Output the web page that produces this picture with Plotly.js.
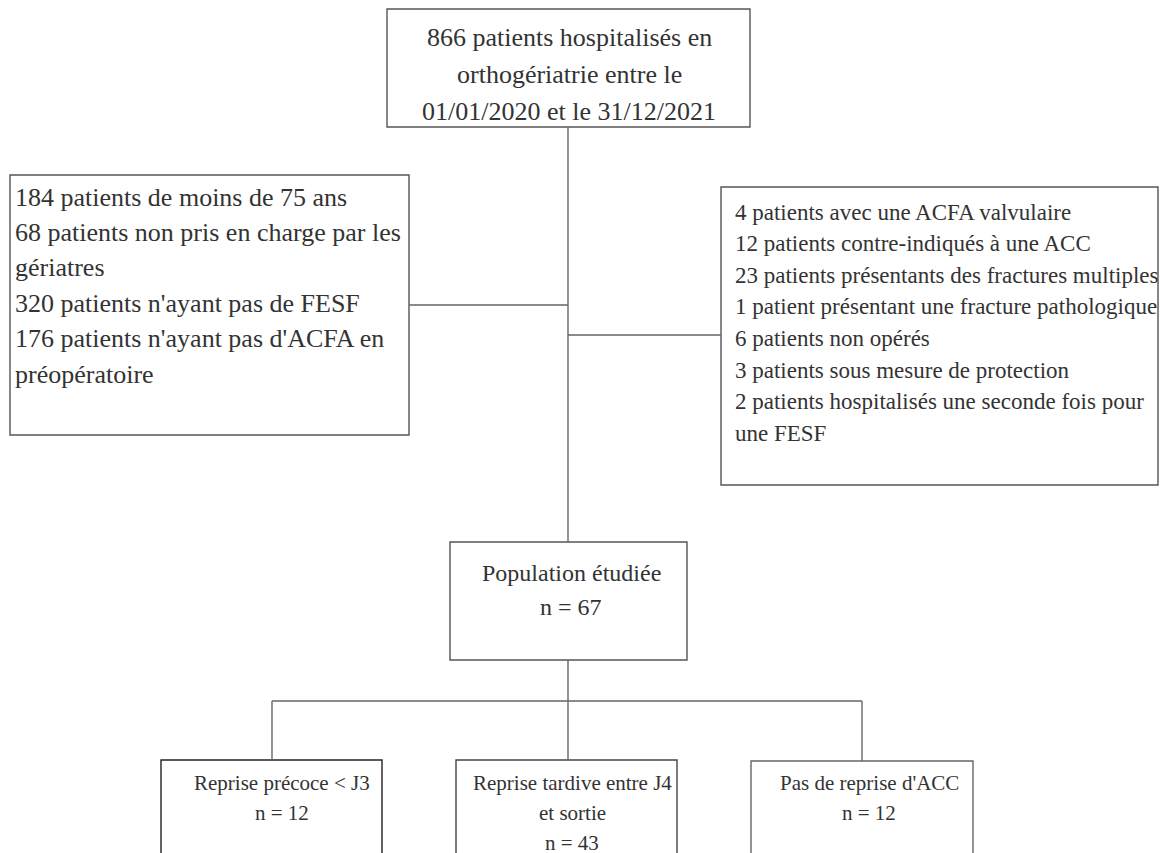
<!DOCTYPE html>
<html>
<head>
<meta charset="utf-8">
<script src="https://cdn.plot.ly/plotly-3.0.1.min.js"></script>
<style>html,body{margin:0;padding:0;background:#fff;}#chart{width:1165px;height:853px;}</style>
</head>
<body>
<div id="chart"></div>
<script>
// ---- Chart content (text values) ----
var topLines = ["866 patients hospitalisés en", "orthogériatrie entre le", "01/01/2020 et le 31/12/2021"];
var leftLines = ["184 patients de moins de 75 ans", "68 patients non pris en charge par les", "gériatres", "320 patients n'ayant pas de FESF", "176 patients n'ayant pas d'ACFA en", "préopératoire"];
var rightLines = ["4 patients avec une ACFA valvulaire", "12 patients contre-indiqués à une ACC", "23 patients présentants des fractures multiples", "1 patient présentant une fracture pathologique", "6 patients non opérés", "3 patients sous mesure de protection", "2 patients hospitalisés une seconde fois pour", "une FESF"];
var studyLines = ["Population étudiée", "n = 67"];
var groupLines = [
  ["Reprise précoce < J3", "n = 12"],
  ["Reprise tardive entre J4", "et sortie", "n = 43"],
  ["Pas de reprise d'ACC", "n = 12"]
];

// ---- Layout geometry (pixel-like data coordinates) ----
var W = 1165, H = 853;
var boxes = [
  {x0: 387, x1: 750, y0: 9, y1: 127, c: "#555"},
  {x0: 10, x1: 409, y0: 175, y1: 435, c: "#555"},
  {x0: 721, x1: 1158, y0: 187, y1: 485, c: "#555"},
  {x0: 450, x1: 687, y0: 542, y1: 660, c: "#555"},
  {x0: 161, x1: 382, y0: 760, y1: 900, c: "#222"},
  {x0: 456, x1: 677, y0: 760, y1: 900, c: "#444"},
  {x0: 751, x1: 973, y0: 761, y1: 900, c: "#666"}
];
var connectors = [
  [568, 127, 568, 542],
  [409, 305, 568, 305],
  [568, 335, 721, 335],
  [568, 660, 568, 701],
  [272, 701, 862, 701],
  [272, 701, 272, 760],
  [568, 701, 568, 760],
  [862, 701, 862, 761]
];

var FONT = "Liberation Serif";
var TXT = "#333";

var shapes = [];
boxes.forEach(function (b) {
  shapes.push({type: "rect", xref: "x", yref: "y", x0: b.x0, x1: b.x1, y0: b.y0, y1: b.y1,
    line: {color: b.c, width: 1.4}, fillcolor: "rgba(0,0,0,0)"});
});
connectors.forEach(function (l) {
  shapes.push({type: "line", xref: "x", yref: "y", x0: l[0], y0: l[1], x1: l[2], y1: l[3],
    line: {color: "#666", width: 1.4}});
});

var annotations = [];
function addLines(lines, x, y0, dy, size, anchor) {
  lines.forEach(function (t, i) {
    annotations.push({xref: "x", yref: "y", x: x, y: y0 + i * dy, text: t, showarrow: false,
      xanchor: anchor, yanchor: "middle", font: {family: FONT, size: size, color: TXT}});
  });
}
addLines(topLines, 569, 37, 37, 26, "center");
addLines(leftLines, 13, 197, 35.4, 26, "left");
addLines(rightLines, 733, 212, 31.6, 23, "left");
addLines(studyLines, 571, 573, 34, 24, "center");
var groupCenters = [282, 572, 869];
groupLines.forEach(function (g, i) {
  addLines(g, groupCenters[i], 783, 30, 21, "center");
});

var layout = {
  width: W, height: H,
  margin: {l: 0, r: 0, t: 0, b: 0},
  paper_bgcolor: "#fff", plot_bgcolor: "#fff",
  font: {family: FONT},
  xaxis: {range: [0, W], showgrid: false, zeroline: false, showticklabels: false, ticks: "", showline: false, fixedrange: true},
  yaxis: {range: [H, 0], showgrid: false, zeroline: false, showticklabels: false, ticks: "", showline: false, fixedrange: true},
  shapes: shapes,
  annotations: annotations,
  showlegend: false
};
Plotly.newPlot("chart", [], layout, {displayModeBar: false, staticPlot: true});
</script>
</body>
</html>
